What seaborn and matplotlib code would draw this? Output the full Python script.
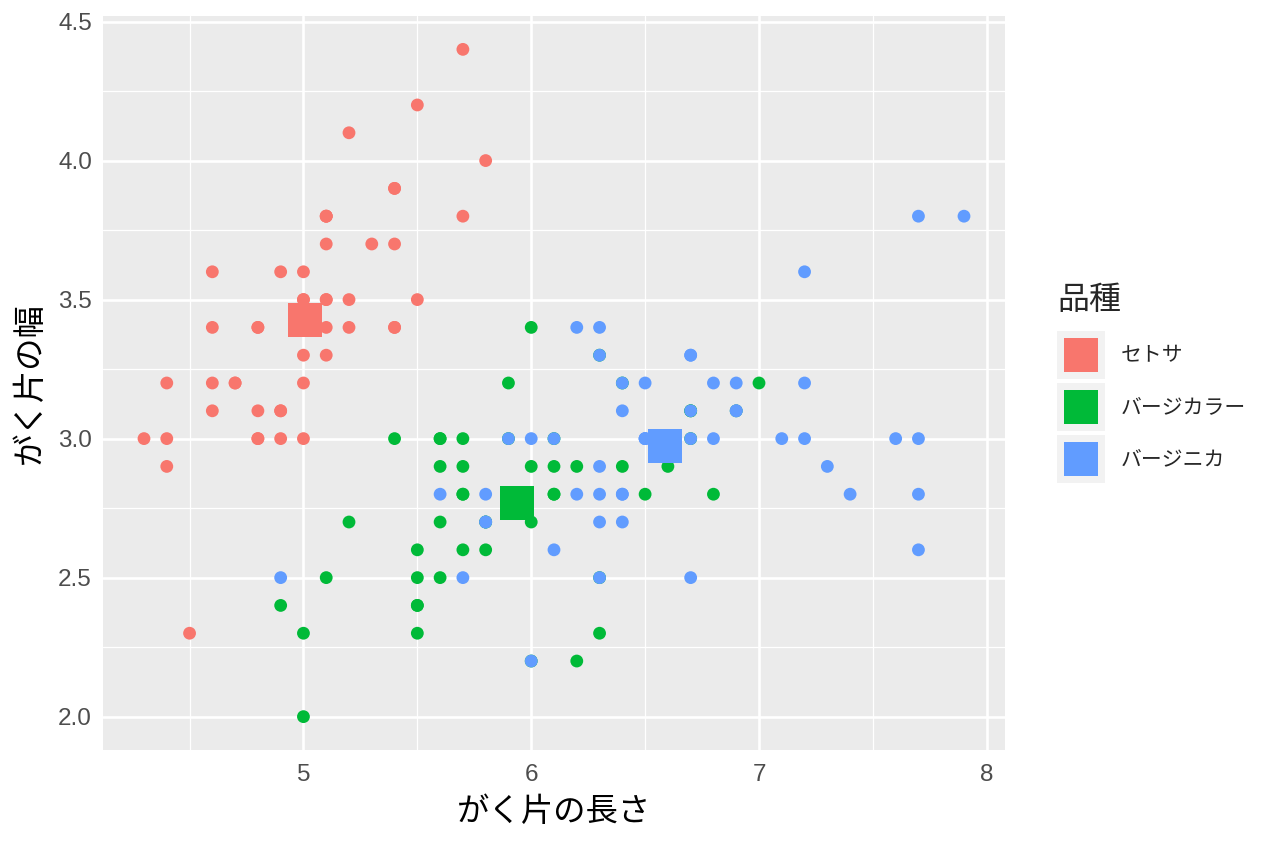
import numpy as np
import pandas as pd
import matplotlib
matplotlib.use("Agg")
import matplotlib.pyplot as plt
from matplotlib.patches import Rectangle
import seaborn as sns

species_labels = ["セトサ", "バージカラー", "バージニカ"]
colors = ["#F8766D", "#00BA38", "#619CFF"]

setosa_len = [5.1,4.9,4.7,4.6,5.0,5.4,4.6,5.0,4.4,4.9,5.4,4.8,4.8,4.3,5.8,5.7,5.4,5.1,5.7,5.1,
              5.4,5.1,4.6,5.1,4.8,5.0,5.0,5.2,5.2,4.7,4.8,5.4,5.2,5.5,4.9,5.0,5.5,4.9,4.4,5.1,
              5.0,4.5,4.4,5.0,5.1,4.8,5.1,4.6,5.3,5.0]
setosa_wid = [3.5,3.0,3.2,3.1,3.6,3.9,3.4,3.4,2.9,3.1,3.7,3.4,3.0,3.0,4.0,4.4,3.9,3.5,3.8,3.8,
              3.4,3.7,3.6,3.3,3.4,3.0,3.4,3.5,3.4,3.2,3.1,3.4,4.1,4.2,3.1,3.2,3.5,3.6,3.0,3.4,
              3.5,2.3,3.2,3.5,3.8,3.0,3.8,3.2,3.7,3.3]
versicolor_len = [7.0,6.4,6.9,5.5,6.5,5.7,6.3,4.9,6.6,5.2,5.0,5.9,6.0,6.1,5.6,6.7,5.6,5.8,6.2,5.6,
                  5.9,6.1,6.3,6.1,6.4,6.6,6.8,6.7,6.0,5.7,5.5,5.5,5.8,6.0,5.4,6.0,6.7,6.3,5.6,5.5,
                  5.5,6.1,5.8,5.0,5.6,5.7,5.7,6.2,5.1,5.7]
versicolor_wid = [3.2,3.2,3.1,2.3,2.8,2.8,3.3,2.4,2.9,2.7,2.0,3.0,2.2,2.9,2.9,3.1,3.0,2.7,2.2,2.5,
                  3.2,2.8,2.5,2.8,2.9,3.0,2.8,3.0,2.9,2.6,2.4,2.4,2.7,2.7,3.0,3.4,3.1,2.3,3.0,2.5,
                  2.6,3.0,2.6,2.3,2.7,3.0,2.9,2.9,2.5,2.8]
virginica_len = [6.3,5.8,7.1,6.3,6.5,7.6,4.9,7.3,6.7,7.2,6.5,6.4,6.8,5.7,5.8,6.4,6.5,7.7,7.7,6.0,
                 6.9,5.6,7.7,6.3,6.7,7.2,6.2,6.1,6.4,7.2,7.4,7.9,6.4,6.3,6.1,7.7,6.3,6.4,6.0,6.9,
                 6.7,6.9,5.8,6.8,6.7,6.7,6.3,6.5,6.2,5.9]
virginica_wid = [3.3,2.7,3.0,2.9,3.0,3.0,2.5,2.9,2.5,3.6,3.2,2.7,3.0,2.5,2.8,3.2,3.0,3.8,2.6,2.2,
                 3.2,2.8,2.8,2.7,3.3,3.2,2.8,3.0,2.8,3.0,2.8,3.8,2.8,2.8,2.6,3.0,3.4,3.1,3.0,3.1,
                 3.1,3.1,2.7,3.2,3.3,3.0,2.5,3.0,3.4,3.0]

x_ticks = [5, 6, 7, 8]
y_ticks = [2.0, 2.5, 3.0, 3.5, 4.0, 4.5]
y_tick_labels = ["2.0", "2.5", "3.0", "3.5", "4.0", "4.5"]
x_title = "がく片の長さ"
y_title = "がく片の幅"
legend_title = "品種"

df = pd.DataFrame({
    "len": setosa_len + versicolor_len + virginica_len,
    "wid": setosa_wid + versicolor_wid + virginica_wid,
    "sp": [species_labels[0]] * len(setosa_len) + [species_labels[1]] * len(versicolor_len)
          + [species_labels[2]] * len(virginica_len),
})
means = df.groupby("sp", sort=False)[["len", "wid"]].mean().reset_index()

sns.set_theme(style="white")
CJK = ["Noto Sans CJK JP", "DejaVu Sans"]
NUM = ["Liberation Sans", "DejaVu Sans"]
plt.rcParams["font.family"] = CJK

fig = plt.figure(figsize=(12.64, 8.48), dpi=100)
W, H = 1264, 848
ax = fig.add_axes([103 / W, 1 - 750 / H, (1005 - 103) / W, (750 - 16) / H])
ax.set_facecolor("#EBEBEB")

palette = dict(zip(species_labels, colors))
sns.scatterplot(data=df, x="len", y="wid", hue="sp", palette=palette, s=85,
                linewidth=0, legend=False, ax=ax, zorder=3)
sns.scatterplot(data=means, x="len", y="wid", hue="sp", palette=palette, s=600,
                marker="s", linewidth=0, legend=False, ax=ax, zorder=4)

ax.set_xlim(4.12, 8.08)
ax.set_ylim(1.88, 4.52)
ax.set_xticks(x_ticks)
ax.set_xticklabels([str(v) for v in x_ticks])
ax.set_yticks(y_ticks)
ax.set_yticklabels(y_tick_labels)
ax.set_xticks([4.5, 5.5, 6.5, 7.5], minor=True)
ax.set_yticks([2.25, 2.75, 3.25, 3.75, 4.25], minor=True)
ax.grid(which="major", color="white", linewidth=1.9, zorder=0)
ax.grid(which="minor", color="white", linewidth=0.9, zorder=0)
ax.set_axisbelow(True)
for s in ax.spines.values():
    s.set_visible(False)
ax.tick_params(which="major", length=5, width=1.5, color="#333333",
               labelcolor="#4D4D4D", labelsize=17.5)
ax.tick_params(axis="x", which="major", pad=5)
ax.tick_params(axis="y", which="major", pad=3)
ax.tick_params(which="minor", length=0)
for lab in ax.get_xticklabels() + ax.get_yticklabels():
    lab.set_family(NUM)

ax.set_xlabel(x_title, fontsize=23.3, color="black", va="center")
ax.xaxis.set_label_coords(0.5, (750 - 812) / 734)
ax.set_ylabel(y_title, fontsize=23.3, color="black", va="center")
ax.yaxis.set_label_coords((30 - 103) / 902, 0.5)

# legend (drawn manually in figure pixel coordinates)
fig.text(1057 / W, 1 - 300 / H, legend_title, fontsize=23, va="center", ha="left")
key_tops = [331, 383, 435]
for top, c, lab in zip(key_tops, colors, species_labels):
    fig.patches.append(Rectangle((1057 / W, 1 - (top + 48) / H), 48 / W, 48 / H,
                                 transform=fig.transFigure, facecolor="#F2F2F2",
                                 edgecolor="none", figure=fig))
    fig.patches.append(Rectangle((1064 / W, 1 - (top + 41) / H), 34 / W, 34 / H,
                                 transform=fig.transFigure, facecolor=c,
                                 edgecolor="none", figure=fig))
    fig.text(1121 / W, 1 - (top + 24) / H, lab, fontsize=15, va="center", ha="left")

fig.savefig("out.png", dpi=100)
